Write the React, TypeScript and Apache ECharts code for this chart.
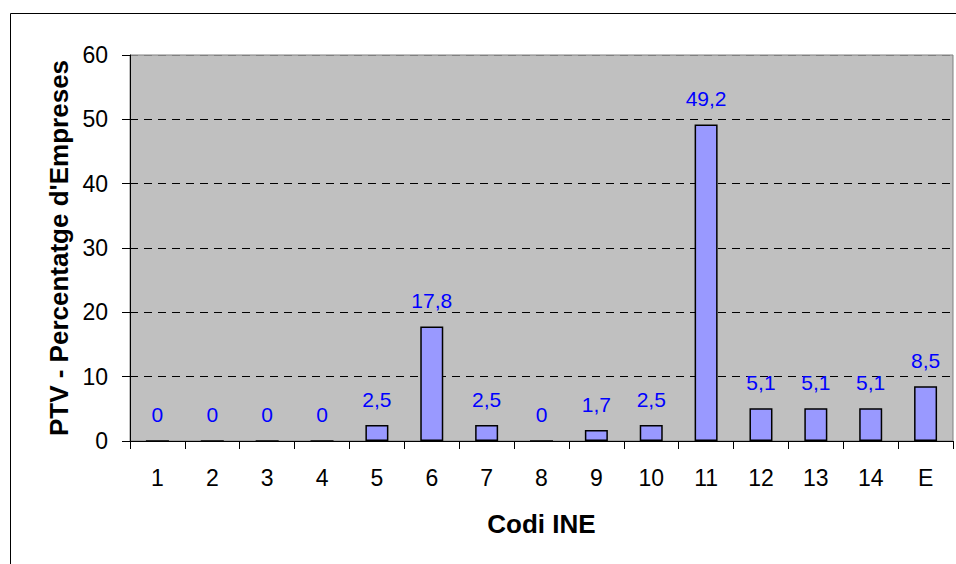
import React, { useEffect, useRef } from "react";
import * as echarts from "echarts";

const categories = ["1", "2", "3", "4", "5", "6", "7", "8", "9", "10", "11", "12", "13", "14", "E"];
const values = [0, 0, 0, 0, 2.5, 17.8, 2.5, 0, 1.7, 2.5, 49.2, 5.1, 5.1, 5.1, 8.5];
const yTitle = "PTV - Percentatge d'Empreses";
const xTitle = "Codi INE";

const FONT = "'Liberation Sans', Arial, Helvetica, sans-serif";

export default function App() {
  const ref = useRef<HTMLDivElement>(null);
  useEffect(() => {
    if (!ref.current) return;
    const chart = echarts.init(ref.current, undefined, { renderer: "svg" });
    chart.setOption({
      animation: false,
      backgroundColor: "#ffffff",
      textStyle: { fontFamily: FONT },
      graphic: [
        {
          type: "rect",
          shape: { x: 10.5, y: 13.5, width: 980, height: 600 },
          style: { fill: "none", stroke: "#000000", lineWidth: 1 },
          silent: true,
          z: -1,
        },
      ],
      grid: {
        left: 130,
        top: 55,
        right: 3,
        bottom: 123,
        show: true,
        backgroundColor: "#c0c0c0",
        borderColor: "#808080",
        borderWidth: 1,
        containLabel: false,
      },
      xAxis: {
        type: "category",
        data: categories,
        boundaryGap: true,
        name: xTitle,
        nameLocation: "middle",
        nameGap: 70,
        nameTextStyle: { fontFamily: FONT, fontSize: 26, fontWeight: "bold", color: "#000" },
        axisLine: { lineStyle: { color: "#000", width: 1 } },
        axisTick: { show: true, interval: 0, length: 8, lineStyle: { color: "#000" } },
        axisLabel: { interval: 0, fontFamily: FONT, fontSize: 23, color: "#000", margin: 25 },
        splitLine: { show: false },
      },
      yAxis: {
        type: "value",
        min: 0,
        max: 60,
        interval: 10,
        name: yTitle,
        nameLocation: "middle",
        nameGap: 57,
        nameTextStyle: { fontFamily: FONT, fontSize: 26, fontWeight: "bold", color: "#000" },
        axisLine: { show: true, lineStyle: { color: "#000", width: 1 } },
        axisTick: { show: true, length: 8, lineStyle: { color: "#000" } },
        axisLabel: { fontFamily: FONT, fontSize: 23, color: "#000", margin: 22 },
        splitLine: {
          show: true,
          lineStyle: {
            color: ["#000", "#000", "#000", "#000", "#000", "#000", "#808080"],
            type: [8, 6],
            width: 1,
          },
        },
      },
      series: [
        {
          type: "bar",
          data: values,
          barWidth: 23,
          itemStyle: { color: "#9999ff", borderColor: "#000", borderWidth: 1.5 },
          label: {
            show: true,
            position: "top",
            distance: 15,
            fontFamily: FONT,
            fontSize: 21,
            color: "#0000ff",
            formatter: (p: any) => String(p.value).replace(".", ","),
          },
        },
      ],
    });
    return () => chart.dispose();
  }, []);
  return (
    <div
      ref={ref}
      style={{ position: "fixed", left: 0, top: 0, width: 956, height: 564 }}
    />
  );
}
